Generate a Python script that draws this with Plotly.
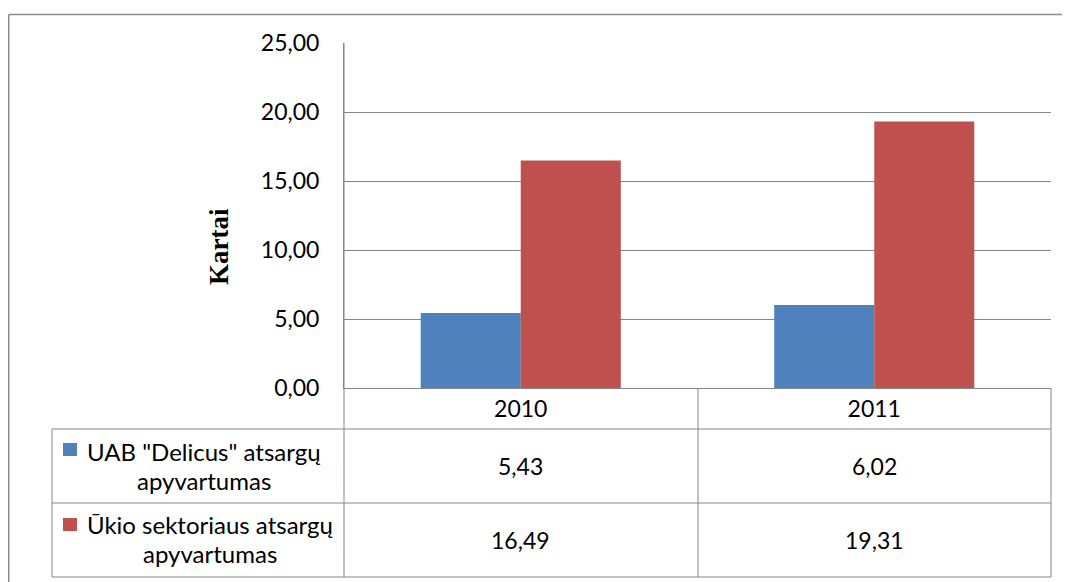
import plotly.graph_objects as go

years = ["2010", "2011"]
series_lines = [['UAB "Delicus" atsargų', "apyvartumas"], ["Ūkio sektoriaus atsargų", "apyvartumas"]]
delicus = [5.43, 6.02]
sektorius = [16.49, 19.31]
colors = ["#4F81BD", "#C0504D"]
y_title = "Kartai"

OFF = 8  # page body margin
W, H = 1070 - OFF, 582 - OFF
L, R, T, B = 344, 1051, 43, 388  # plot area in reference pixels
PW, PH = R - L, B - T


def px(x):
    return (x - L) / PW


def py(y):
    return (B - y) / PH


fig = go.Figure()
for lines, vals, col in zip(series_lines, [delicus, sektorius], colors):
    fig.add_trace(go.Bar(x=years, y=vals, name=" ".join(lines),
                         marker=dict(color=col, line=dict(width=0)), showlegend=False))

grey = "#868686"
font_main = "Lato, 'Open Sans', sans-serif"
FS = 23
FS_LBL = 24
shapes = []


def line(x0, y0, x1, y1, color=grey, w=1):
    shapes.append(dict(type="line", xref="paper", yref="paper", x0=px(x0), y0=py(y0),
                       x1=px(x1), y1=py(y1), line=dict(color=color, width=w)))


# outer chart border
line(8.75, 14.5, 1090, 14.5, color="#8c8c8c", w=1.5)
line(8.75, 14.5, 8.75, 600, color="#8c8c8c", w=1.5)
# data table lines
line(L, T, L, 577)          # y axis extended through table
line(R, B, R, 577)
line(698, B, 698, 577)
line(52, 429, R, 429)
line(52, 503, R, 503)
line(52, 577, R, 577)
line(52, 429, 52, 577)

annotations = []
row_centers = [466, 540]
line_ys = [(451, 480), (524, 553)]
row_text_x = [204, 210]
key_y = [(443, 456), (518, 531)]
for i, (lines, vals, col) in enumerate(zip(series_lines, [delicus, sektorius], colors)):
    shapes.append(dict(type="rect", xref="paper", yref="paper", x0=px(63), x1=px(77),
                       y0=py(key_y[i][0]), y1=py(key_y[i][1]),
                       fillcolor=col, line=dict(width=0)))
    for txt, yy in zip(lines, line_ys[i]):
        annotations.append(dict(xref="paper", yref="paper", x=px(row_text_x[i]), y=py(yy),
                                text=txt, showarrow=False, align="center",
                                xanchor="center", yanchor="middle",
                                font=dict(family=font_main, size=FS_LBL, color="#000")))
    for j, v in enumerate(vals):
        annotations.append(dict(xref="x", yref="paper", x=j, y=py(row_centers[i]),
                                text=f"{v:.2f}".replace(".", ","), showarrow=False,
                                xanchor="center", yanchor="middle",
                                font=dict(family=font_main, size=FS, color="#000")))

annotations.append(dict(xref="paper", yref="paper", x=px(219), y=py(247), text=f"<b>{y_title}</b>",
                        textangle=-90, showarrow=False, xanchor="center", yanchor="middle",
                        font=dict(family="'Liberation Serif', 'Times New Roman', serif", size=27, color="#000")))

fig.update_layout(
    width=W, height=H,
    margin=dict(l=L - OFF, r=W - (R - OFF), t=T - OFF, b=H - (B - OFF), pad=0),
    paper_bgcolor="white", plot_bgcolor="white",
    barmode="group", bargap=0.434, bargroupgap=0,
    separators=", ",
    shapes=shapes, annotations=annotations,
    showlegend=False,
    xaxis=dict(type="category", range=[-0.5, 1.5], showgrid=False, showline=True,
               linecolor=grey, linewidth=1, ticks="", ticklabelstandoff=0,
               tickfont=dict(family=font_main, size=FS, color="#000")),
    yaxis=dict(range=[0, 25], dtick=5, tickformat=".2f", showgrid=True, gridcolor=grey,
               gridwidth=1, showline=True, linecolor=grey, ticks="", zeroline=False,
               ticklabelstandoff=19,
               tickfont=dict(family=font_main, size=FS, color="#000")),
)

fig.write_html("out.html")
